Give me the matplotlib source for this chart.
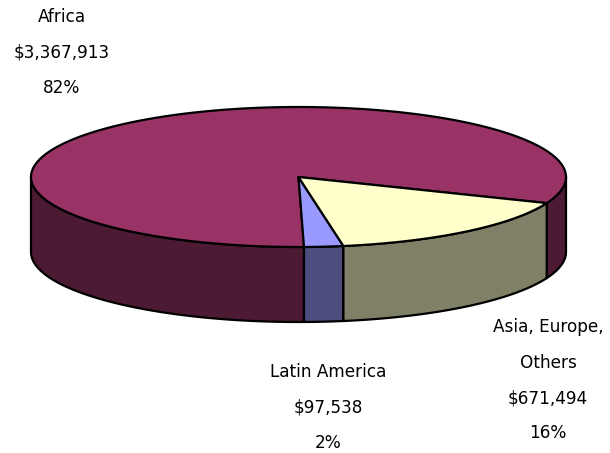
import matplotlib
matplotlib.use("Agg")

import numpy as np
import matplotlib.pyplot as plt
from matplotlib.patches import Polygon

# data
regions = ["Africa", "Latin America", "Asia, Europe,\nOthers"]
amounts = [3367913, 97538, 671494]
pct_labels = ["82%", "2%", "16%"]

top_colors = ["#993366", "#9999ff", "#ffffcc"]
side_colors = ["#4d1a33", "#4d4d80", "#808066"]

# pie geometry in pixel units
cx, cy = 298.5, 177.0
a, b = 267.5, 70.0
depth = 75.0
start_angle = -21.9

# label anchor (x centre, y of first line) in pixels
label_pos = [(62, 17), (328, 372), (548, 327)]
line_step = 35.5


def ellipse_pts(t1, t2, dy=0.0, n=200):
    t = np.radians(np.linspace(t1, t2, n))
    return np.column_stack((cx + a * np.cos(t), cy - b * np.sin(t) + dy))


fig = plt.figure(figsize=(6.1, 4.53), dpi=100)
ax = fig.add_axes([0, 0, 1, 1])
ax.set_xlim(0, 610)
ax.set_ylim(453, 0)
ax.axis("off")

fracs = np.array(amounts, dtype=float) / np.sum(amounts)
edges = start_angle + np.concatenate(([0], np.cumsum(fracs))) * 360

# outer walls (only the front half is visible)
for i in range(len(amounts)):
    t1, t2 = edges[i], edges[i + 1]
    for k in (-1, 0, 1):
        lo = max(t1, 180 + 360 * k - 360)
        hi = min(t2, 360 + 360 * k - 360)
        if hi > lo:
            top = ellipse_pts(lo, hi)
            bot = ellipse_pts(hi, lo, dy=depth)
            ax.add_patch(Polygon(np.vstack((top, bot)), closed=True,
                                 facecolor=side_colors[i], edgecolor="black",
                                 linewidth=1.6, joinstyle="round"))

# top faces
for i in range(len(amounts)):
    arc = ellipse_pts(edges[i], edges[i + 1])
    pts = np.vstack(([[cx, cy]], arc))
    ax.add_patch(Polygon(pts, closed=True, facecolor=top_colors[i],
                         edgecolor="black", linewidth=1.6, joinstyle="round"))

# data labels
for i in range(len(amounts)):
    lines = regions[i].split("\n") + [f"${amounts[i]:,}", pct_labels[i]]
    x0, y0 = label_pos[i]
    for j, line in enumerate(lines):
        ax.text(x0, y0 + j * line_step, line, ha="center", va="center",
                fontsize=12.2, color="black", family="DejaVu Sans")

fig.savefig("out.png", dpi=100)
